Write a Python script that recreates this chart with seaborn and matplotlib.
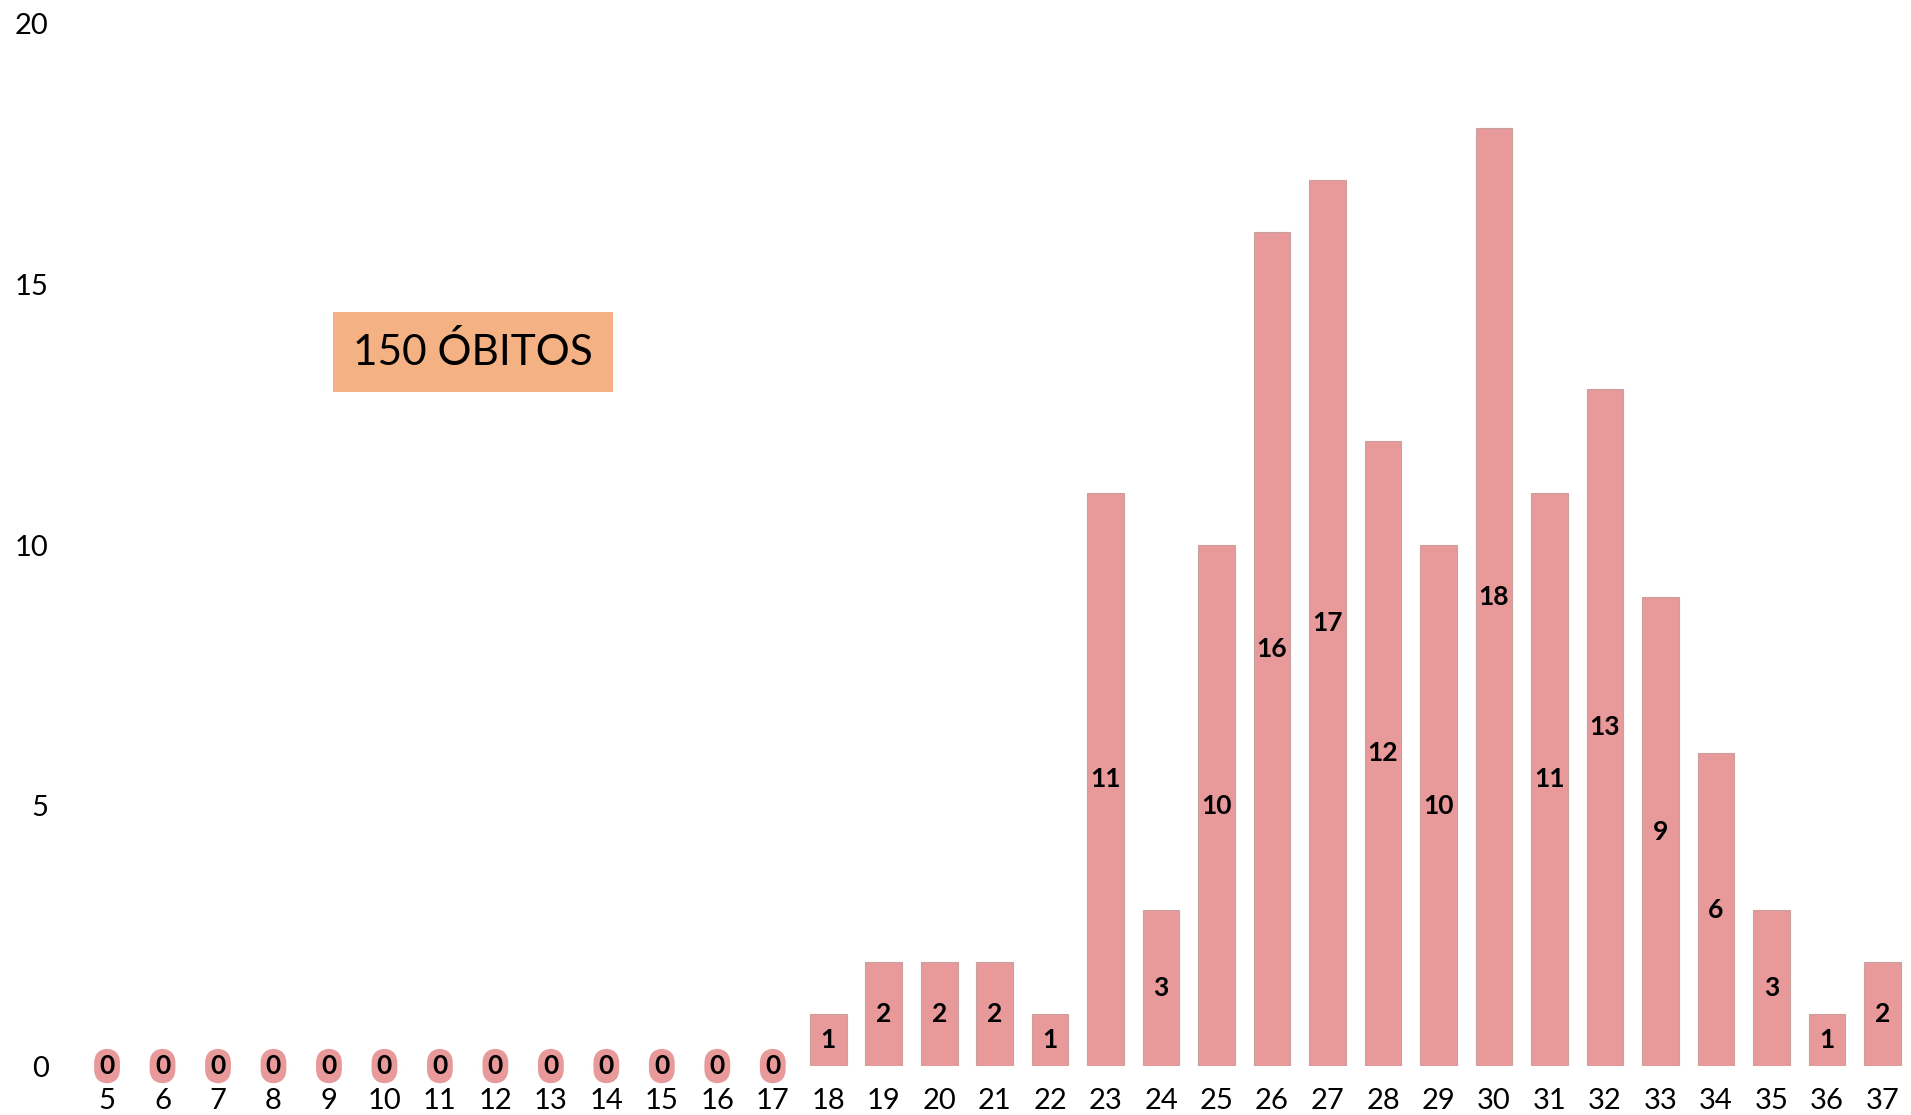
import pandas as pd
import numpy as np
import matplotlib.pyplot as plt
import seaborn as sns
sns.set_style('white')
plt.rcParams['font.family'] = ['Lato', 'DejaVu Sans']
plt.rcParams['text.color'] = 'black'
plt.rcParams['xtick.color'] = 'black'
plt.rcParams['ytick.color'] = 'black'

# semanas epidemiologicas e obitos
semanas = [str(s) for s in range(5, 38)]
obitos = [0, 0, 0, 0, 0, 0, 0, 0, 0, 0, 0, 0, 0,
          1, 2, 2, 2, 1, 11, 3, 10, 16, 17, 12, 10, 18, 11, 13, 9, 6, 3, 1, 2]
total_label = '150 ÓBITOS'
yticks = [0, 5, 10, 15, 20]

bar_color = '#E8999A'
box_color = '#F4B183'

df = pd.DataFrame({'semana': semanas, 'obitos': obitos})

fig = plt.figure(figsize=(19.11, 11.15), dpi=100)
ax = fig.add_axes([0.0415, 0.0439, 0.958, 0.9346])

b = sns.barplot(data=df, x='semana', y='obitos', order=semanas, color=bar_color,
                saturation=1, width=0.66, edgecolor='#c9a0a0', linewidth=0.8, ax=ax)

for i, v in enumerate(obitos):
    if v == 0:
        ax.text(i, 0, '0', ha='center', va='center', fontsize=19, fontweight='bold',
                bbox=dict(boxstyle='round,pad=0.2,rounding_size=0.55', fc=bar_color, ec='none'))
    else:
        ax.text(i, v / 2, str(v), ha='center', va='center', fontsize=19, fontweight='bold')

ax.text(6.6, 13.7, total_label, ha='center', va='center', fontsize=30.5,
        bbox=dict(boxstyle='square,pad=0.47', fc=box_color, ec='none'))

b.set_xlim(-0.5, 32.5)
b.set_ylim(0, 20)
b.set_yticks(yticks)
b.set_xlabel('')
b.set_ylabel('')
b.tick_params(axis='both', length=0, labelsize=21)
b.tick_params(axis='y', pad=22)
b.tick_params(axis='x', pad=16)
for s in ['top', 'left', 'right', 'bottom']:
    b.spines[s].set_visible(False)

plt.savefig('out.png', dpi=100)
